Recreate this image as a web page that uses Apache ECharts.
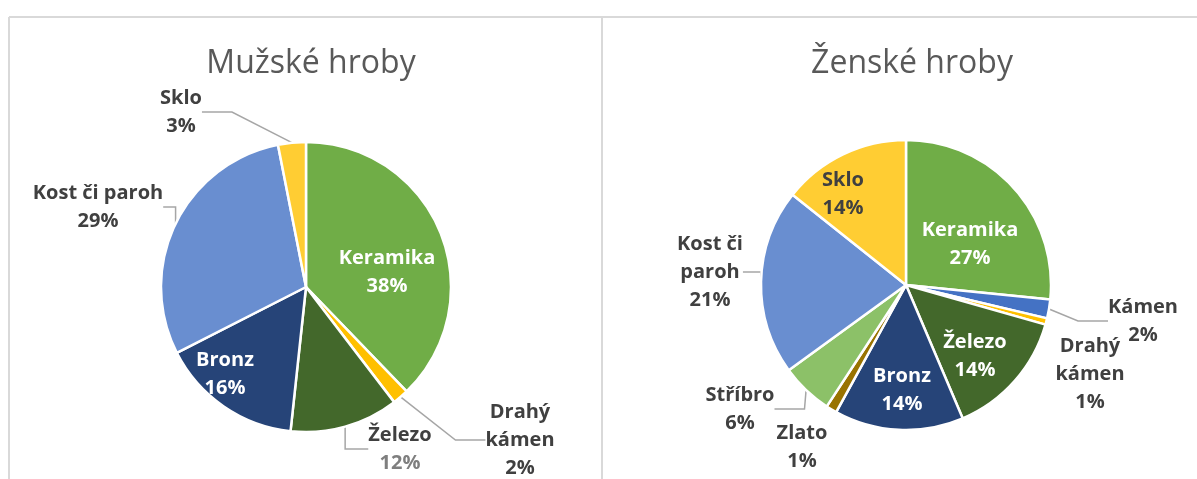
<!DOCTYPE html>
<html>
<head>
<meta charset="utf-8">
<script src="https://cdn.jsdelivr.net/npm/echarts@6/dist/echarts.min.js"></script>
<style>
html, body { margin: 0; padding: 0; background: #fff; }
#chart { width: 1197px; height: 479px; }
</style>
</head>
<body>
<div id="chart"></div>
<script>
// Mužské hroby
const maleNames = ['Keramika', 'Drahý kámen', 'Železo', 'Bronz', 'Kost či paroh', 'Sklo']
const maleValues = [37.8, 1.8, 12.1, 15.8, 29.4, 3.1]

// Ženské hroby
const femaleNames = ['Keramika', 'Kámen', 'Drahý kámen', 'Železo', 'Bronz', 'Zlato', 'Stříbro', 'Kost či paroh', 'Sklo']
const femaleValues = [26.6, 2.1, 0.7, 14.2, 14.4, 1.2, 5.8, 20.7, 14.3]

// barvy
const maleColors = ['#70AD47', '#FFC000', '#43682B', '#264478', '#698ED0', '#FFCD33']
const femaleColors = ['#70AD47', '#4472C4', '#FFC000', '#43682B', '#264478', '#997300', '#8CC168', '#698ED0', '#FFCD33']

// typ popisku: in = bílý uvnitř, dark = tmavý uvnitř, out = venku s čarou, bare = venku bez čáry
const maleLabelKind = ['in', 'out', 'out', 'in', 'out', 'out']
const femaleLabelKind = ['in', 'out', 'bare', 'in', 'in', 'bare', 'out', 'out', 'dark']

// umístění popisků (střed bloku)
const maleLabelPos = [[387, 272], [520, 440], [400, 449], [225, 374], [98, 207], [181, 112]]
const femaleLabelPos = [[970, 244], [1143, 321], [1090, 374], [975, 356], [902, 390], [802, 447], [740, 409], [710, 272], [843, 194]]

const maleWrap = ['Drahý kámen']
const femaleWrap = ['Drahý kámen', 'Kost či paroh']
const maleGrayPct = ['Železo']

const textDark = '#404040'

const wrapName = (name, wrapList) => {
  if (!wrapList.includes(name)) return name
  const i = name.lastIndexOf(' ')
  return name.slice(0, i) + '\n' + name.slice(i + 1)
}

const buildData = (names, values, colors, kinds) =>
  names.map((name, i) => {
    const kind = kinds[i]
    return {
      name,
      value: values[i],
      itemStyle: { color: colors[i] },
      label: { color: kind === 'in' ? '#ffffff' : textDark },
      labelLine: { show: kind === 'out' }
    }
  })

const labelFont = { fontFamily: 'Open Sans', fontWeight: 'bold', fontSize: 20, lineHeight: 28, align: 'center' }

const makeSeries = (names, values, colors, kinds, positions, center, wrapList, grayList) => ({
  type: 'pie',
  center,
  radius: 145,
  startAngle: 90,
  clockwise: true,
  avoidLabelOverlap: false,
  animation: false,
  itemStyle: { borderColor: '#ffffff', borderWidth: 2.5 },
  label: {
    show: true,
    position: 'outside',
    ...labelFont,
    formatter: p => {
      const pct = Math.round(p.percent) + '%'
      const ps = grayList.includes(p.name) ? 'g' : 'p'
      return '{n|' + wrapName(p.name, wrapList) + '}\n{' + ps + '|' + pct + '}'
    },
    rich: {
      n: { ...labelFont },
      p: { ...labelFont },
      g: { ...labelFont, color: '#7F7F7F' }
    }
  },
  labelLine: {
    show: true,
    lineStyle: { color: '#A6A6A6', width: 1.5 }
  },
  labelLayout: params => {
    const pos = positions[params.dataIndex]
    return { x: pos[0], y: pos[1], align: 'center', verticalAlign: 'middle' }
  },
  data: buildData(names, values, colors, kinds)
})

const chart = echarts.init(document.getElementById('chart'), null, { renderer: 'canvas' })

const borderColor = '#D9D9D9'

chart.setOption({
  backgroundColor: '#ffffff',
  title: [
    {
      text: 'Mužské hroby',
      left: 306,
      top: 43,
      textAlign: 'center',
      textStyle: { fontFamily: 'Open Sans', fontWeight: 'normal', fontSize: 32, color: '#595959' }
    },
    {
      text: 'Ženské hroby',
      left: 907,
      top: 43,
      textAlign: 'center',
      textStyle: { fontFamily: 'Open Sans', fontWeight: 'normal', fontSize: 32, color: '#595959' }
    }
  ],
  graphic: [
    { type: 'line', shape: { x1: 9, y1: 17, x2: 1197, y2: 17 }, style: { stroke: borderColor, lineWidth: 2 } },
    { type: 'line', shape: { x1: 9, y1: 17, x2: 9, y2: 479 }, style: { stroke: borderColor, lineWidth: 2 } },
    { type: 'line', shape: { x1: 602, y1: 17, x2: 602, y2: 479 }, style: { stroke: borderColor, lineWidth: 2 } }
  ],
  series: [
    makeSeries(maleNames, maleValues, maleColors, maleLabelKind, maleLabelPos, [306, 287], maleWrap, maleGrayPct),
    makeSeries(femaleNames, femaleValues, femaleColors, femaleLabelKind, femaleLabelPos, [906, 285], femaleWrap, [])
  ]
})

window.addEventListener('resize', () => {
  chart.resize()
})
</script>
</body>
</html>
